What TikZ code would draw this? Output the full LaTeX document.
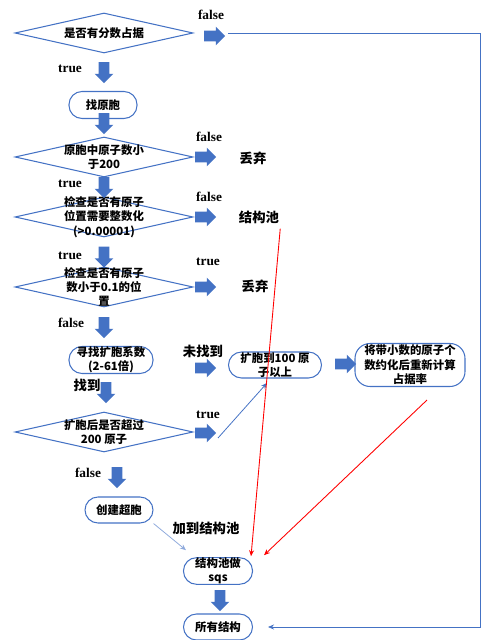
\documentclass[tikz,border=0pt]{standalone}
\usepackage{fontspec}
\newfontfamily\cjk{Noto Sans CJK SC}
\newfontfamily\tnr{Liberation Serif}
\usetikzlibrary{shapes.geometric,shapes.arrows,arrows.meta}
\definecolor{flowblue}{HTML}{4472C4}

\begin{document}
\begin{tikzpicture}[
  dia/.style={diamond, draw=flowblue, line width=0.6pt, minimum width=3.56cm, minimum height=0.8cm, inner sep=0pt},
  txt/.style={align=center, font=\cjk\bfseries\fontsize{6.5}{8.2}\selectfont, inner sep=0pt},
  box/.style={rectangle, draw=flowblue, line width=0.6pt, rounded corners=0.26cm, align=center, font=\cjk\bfseries\fontsize{6.5}{8.2}\selectfont, inner sep=0pt},
  fat/.style={single arrow, fill=flowblue, draw=none, minimum height=0.42cm, inner sep=0.1cm, single arrow head extend=0.08cm},
  down/.style={fat, shape border rotate=270},
  tf/.style={font=\tnr\bfseries\fontsize{7.6}{8}\selectfont},
  lab/.style={font=\cjk\bfseries\fontsize{7.6}{8}\selectfont},
  thinarrow/.style={draw=flowblue, line width=0.45pt, -{Stealth[length=1.2mm, width=1mm]}},
  redarrow/.style={draw=red, line width=0.5pt, -{Stealth[length=1.2mm, width=1mm]}},
]
\useasboundingbox (0,0) rectangle (10.02,12.8);

% === DECISIONS ===
\node[dia] (d1) at (2.08,12.14) {};
\node[txt] (d1t) at (d1) {是否有分数占据};
\node[dia] (d2) at (2.08,9.66) {};
\node[txt] (d2t) at (d2) {原胞中原子数小\\于200};
\node[dia] (d3) at (2.08,8.46) {};
\node[txt] (d3t) at (d3) {检查是否有原子\\位置需要整数化\\(>0.00001)};
\node[dia] (d4) at (2.08,7.06) {};
\node[txt] (d4t) at (d4) {检查是否有原子\\数小于0.1的位\\置};
\node[dia] (d5) at (2.08,4.16) {};
\node[txt] (d5t) at (d5) {扩胞后是否超过\\200 原子};

% === STEPS ===
\node[box, minimum width=1.36cm, minimum height=0.54cm] (b1) at (2.06,10.70) {找原胞};
\node[box, minimum width=1.68cm, minimum height=0.54cm] (b2) at (2.22,5.60) {寻找扩胞系数\\(2-61倍)};
\node[box, minimum width=1.86cm, minimum height=0.52cm] (b3) at (5.50,5.50) {扩胞到100 原\\子以上};
\node[box, minimum width=2.20cm, minimum height=0.86cm, rounded corners=0.3cm] (b4) at (8.20,5.50) {将带小数的原子个\\数约化后重新计算\\占据率};
\node[box, minimum width=1.36cm, minimum height=0.52cm] (b5) at (2.38,2.60) {创建超胞};
\node[box, minimum width=1.38cm, minimum height=0.52cm] (b6) at (4.36,1.38) {结构池做\\sqs};
\node[box, minimum width=1.38cm, minimum height=0.52cm] (b7) at (4.36,0.26) {所有结构};

% === BLOCK ARROWS ===
\node[down] (v1) at (2.08,11.40) {};
\node[down] (v2) at (2.08,10.38) {};
\node[down] (v3) at (2.08,9.10) {};
\node[down] (v4) at (2.08,7.71) {};
\node[down] (v5) at (2.08,6.30) {};
\node[down] (v6) at (2.12,5.00) {};
\node[down] (v7) at (2.34,3.30) {};
\node[down] (v8) at (4.40,0.84) {};
\node[fat] (r1) at (4.24,12.08) {};
\node[fat] (r2) at (4.06,9.66) {};
\node[fat] (r3) at (4.06,8.46) {};
\node[fat] (r4) at (4.06,7.06) {};
\node[fat] (r5) at (4.06,5.44) {};
\node[fat] (r6) at (6.86,5.52) {};
\node[fat] (r7) at (4.06,4.14) {};

% === LABELS ===
\node[tf] (f1) at (4.22,12.50) {false};
\node[tf] (t1) at (1.40,11.42) {true};
\node[tf] (f2) at (4.18,10.06) {false};
\node[tf] (t2) at (1.40,9.12) {true};
\node[tf] (f3) at (4.18,8.86) {false};
\node[tf] (t3) at (1.40,7.68) {true};
\node[tf] (t4) at (4.16,7.56) {true};
\node[tf] (f4) at (1.42,6.34) {false};
\node[tf] (t5) at (4.16,4.50) {true};
\node[tf] (f5) at (1.76,3.34) {false};
\node[lab] (l1) at (5.06,9.64) {丢弃};
\node[lab] (l2) at (5.18,8.46) {结构池};
\node[lab] (l3) at (5.10,7.08) {丢弃};
\node[lab] (l4) at (4.06,5.78) {未找到};
\node[lab] (l5) at (1.74,5.10) {找到};
\node[lab] (l6) at (4.12,2.24) {加到结构池};

% === CONNECTORS ===
\coordinate (c1) at (4.36,4.04);
\coordinate (c2) at (4.56,12.14);
\coordinate (c3) at (9.60,12.14);
\coordinate (c4) at (9.60,0.26);
\draw[thinarrow] (c1) -- (5.34,5.14);
\draw[thinarrow, draw=flowblue!60] (b5.south east) -- ([xshift=0.06cm,yshift=0.14cm]b6.north west);
\draw[thinarrow] (c2) -- (c3) -- (c4) -- ([xshift=0.3cm]b7.east);
\draw[redarrow] ([xshift=-0.1cm,yshift=0.02cm]l2.south east) -- ([xshift=-0.04cm,yshift=0.02cm]b6.north east);
\draw[redarrow] ([xshift=0.34cm,yshift=-0.26cm]b4.south) -- ([xshift=0.22cm,yshift=0.04cm]b6.north east);
\end{tikzpicture}
\end{document}
